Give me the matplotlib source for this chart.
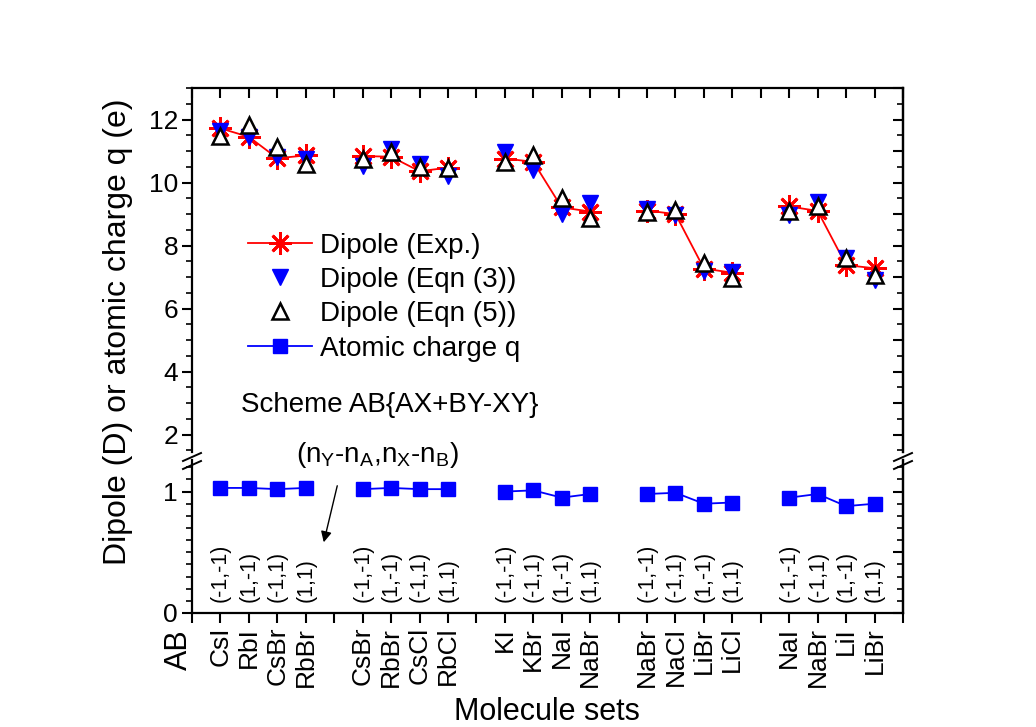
import numpy as np
import matplotlib
matplotlib.use("Agg")
import matplotlib.pyplot as plt
from matplotlib.ticker import MultipleLocator
from matplotlib.lines import Line2D

plt.rcParams['font.family'] = ['Liberation Sans', 'DejaVu Sans']
plt.rcParams['mathtext.fontset'] = 'custom'
plt.rcParams['mathtext.rm'] = 'Liberation Sans'

# x positions: 5 groups of 4 molecules, a blank slot between groups
positions = [1, 2, 3, 4, 6, 7, 8, 9, 11, 12, 13, 14, 16, 17, 18, 19, 21, 22, 23, 24]
molecules = ['CsI', 'RbI', 'CsBr', 'RbBr',
             'CsBr', 'RbBr', 'CsCl', 'RbCl',
             'KI', 'KBr', 'NaI', 'NaBr',
             'NaBr', 'NaCl', 'LiBr', 'LiCl',
             'NaI', 'NaBr', 'LiI', 'LiBr']
pairs = ['(-1,-1)', '(1,-1)', '(-1,1)', '(1,1)',
         '(-1,-1)', '(1,-1)', '(-1,1)', '(1,1)',
         '(-1,-1)', '(-1,1)', '(1,-1)', '(1,1)',
         '(-1,-1)', '(-1,1)', '(1,-1)', '(1,1)',
         '(-1,-1)', '(-1,1)', '(1,-1)', '(1,1)']

dip_exp = [11.72, 11.45, 10.77, 10.86,
           10.84, 10.82, 10.36, 10.47,
           10.76, 10.66, 9.21, 9.08,
           9.11, 9.00, 7.27, 7.14,
           9.24, 9.10, 7.38, 7.28]
dip_eq3 = [11.65, 11.45, 10.80, 10.76,
           10.52, 11.06, 10.58, 10.20,
           10.98, 10.40, 9.00, 9.34,
           9.15, 8.96, 7.20, 7.16,
           8.96, 9.37, 7.62, 6.90]
dip_eq5 = [11.47, 11.82, 11.12, 10.60,
           10.74, 10.97, 10.50, 10.45,
           10.65, 10.86, 9.50, 8.87,
           9.05, 9.12, 7.45, 6.98,
           9.10, 9.26, 7.60, 7.07]
charge = [1.03, 1.03, 1.02, 1.03,
          1.02, 1.03, 1.02, 1.02,
          1.00, 1.01, 0.95, 0.98,
          0.98, 0.99, 0.90, 0.91,
          0.95, 0.98, 0.88, 0.90]

W, H = 1036, 727
fig = plt.figure(figsize=(W / 100, H / 100), dpi=100)

def fx(px):
    return px / W

def fy(py):
    return (H - py) / H

left, right = 192, 903
ax_hi = fig.add_axes([fx(left), fy(452), fx(right - left), fy(88) - fy(452)])
ax_lo = fig.add_axes([fx(left), fy(613), fx(right - left), fy(460) - fy(613)])

for ax in (ax_hi, ax_lo):
    ax.set_xlim(0, 25)
    for s in ax.spines.values():
        s.set_linewidth(1.6)
ax_hi.set_ylim(1.45, 13.0)
ax_lo.set_ylim(0, 1.26)
ax_hi.spines['bottom'].set_visible(False)
ax_lo.spines['top'].set_visible(False)

pos = np.array(positions)
groups = [slice(i, i + 4) for i in range(0, 20, 4)]

# upper panel: dipoles
for k, g in enumerate(groups):
    ax_hi.plot(pos[g], np.array(dip_exp)[g], color='red', lw=1.3, marker=(8, 2, 0),
               ms=16, mew=2.0, mec='red', label='Dipole (Exp.)' if k == 0 else None, zorder=3)
ax_hi.plot(pos, dip_eq3, ls='none', marker='v', ms=12, color='blue', mec='blue',
           label='Dipole (Eqn (3))', zorder=4)
ax_hi.plot(pos, dip_eq5, ls='none', marker='^', ms=12, mfc='white', mec='black', mew=1.8,
           label='Dipole (Eqn (5))', zorder=5)

# lower panel: atomic charge
for k, g in enumerate(groups):
    ax_lo.plot(pos[g], np.array(charge)[g], color='blue', lw=1.3, marker='s', ms=10,
               mec='blue', label='Atomic charge q' if k == 0 else None, zorder=3)

for p, t in zip(positions, pairs):
    ax_lo.text(p, 0.09, t, rotation=90, ha='center', va='bottom', fontsize=15.5)

# ticks
ax_hi.yaxis.set_major_locator(MultipleLocator(2))
ax_hi.yaxis.set_minor_locator(MultipleLocator(0.5))
ax_hi.set_yticks([2, 4, 6, 8, 10, 12])
ax_lo.set_yticks([0, 1])
ax_lo.yaxis.set_minor_locator(MultipleLocator(0.1))
for ax in (ax_hi, ax_lo):
    ax.tick_params(axis='y', which='major', direction='out', length=7, width=1.5,
                   labelsize=19, right=False, pad=3)
    ax.tick_params(axis='y', which='minor', direction='out', length=4, width=1.2, right=False)

ax_hi.set_xticks(range(0, 26))
ax_hi.tick_params(axis='x', which='major', direction='in', length=7, width=1.5,
                  bottom=False, top=True, labelbottom=False, labeltop=False)

xt = list(range(0, 26))
xl = ['' for _ in xt]
for p, m in zip(positions, molecules):
    xl[p] = m
ax_lo.set_xticks(xt)
ax_lo.set_xticklabels(xl, rotation=90, fontsize=19)
ax_lo.tick_params(axis='x', which='major', direction='out', length=7, width=1.5, pad=3)

# right side ticks pointing inward
for ax, maj, mnr in ((ax_hi, 2, 0.5), (ax_lo, 1, 0.1)):
    sec = ax.secondary_yaxis('right')
    sec.yaxis.set_major_locator(MultipleLocator(maj / 2))
    sec.yaxis.set_minor_locator(MultipleLocator(mnr))
    sec.tick_params(which='major', direction='in', length=7, width=1.5, labelright=False)
    sec.tick_params(which='minor', direction='in', length=4, width=1.2)
    sec.spines['right'].set_linewidth(1.6)

# axis break marks
for xp in (left, right):
    for yp in (457, 465):
        fig.add_artist(Line2D([fx(xp - 9), fx(xp + 9)], [fy(yp + 4), fy(yp - 4)],
                              transform=fig.transFigure, color='black', lw=1.4))

# legend
h1, l1 = ax_hi.get_legend_handles_labels()
h2, l2 = ax_lo.get_legend_handles_labels()
ax_hi.legend(h1 + h2, l1 + l2, loc='upper left', bbox_to_anchor=(0.079, 0.603),
             frameon=False, fontsize=20, handlelength=2.3, handletextpad=0.3,
             labelspacing=0.3, borderpad=0, borderaxespad=0)

ax_hi.text(6.95, 2.95, 'Scheme AB{AX+BY-XY}', ha='center', va='center', fontsize=20)
ax_lo.text(6.52, 1.30,
           r'(n$_\mathregular{Y}$-n$_\mathregular{A}$,n$_\mathregular{X}$-n$_\mathregular{B}$)',
           ha='center', va='center', fontsize=20, clip_on=False)
ax_lo.annotate('', xy=(4.61, 0.56), xytext=(5.13, 1.07),
               arrowprops=dict(arrowstyle='-|>', color='black', lw=1.0, mutation_scale=16))

fig.text(fx(118), fy(332), 'Dipole (D) or atomic charge q (e)', rotation=90,
         ha='center', va='center', fontsize=23)
fig.text(fx(547), fy(712), 'Molecule sets', ha='center', va='center', fontsize=22)
fig.text(fx(179), fy(650), 'AB', rotation=90, ha='center', va='center', fontsize=22)

fig.savefig('out.png', dpi=100)
